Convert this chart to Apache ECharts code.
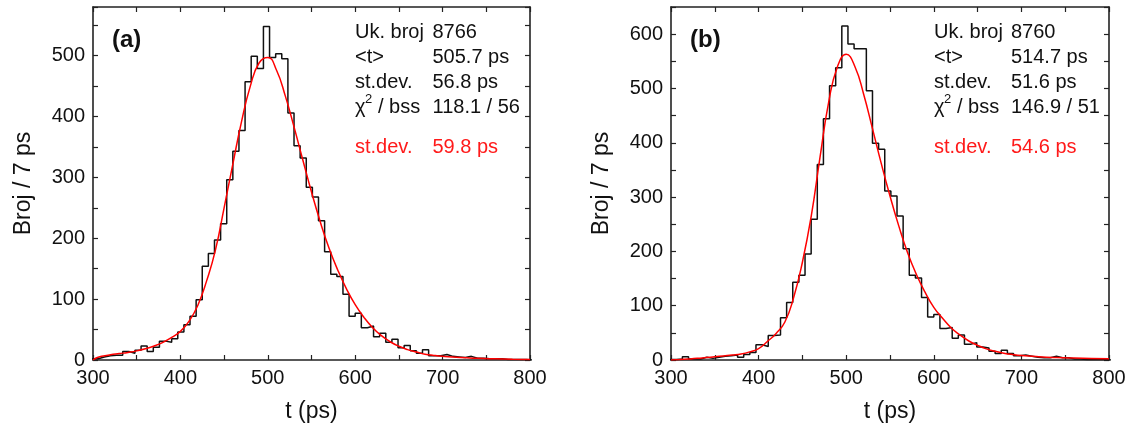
<!DOCTYPE html>
<html><head><meta charset="utf-8">
<script src="https://cdn.jsdelivr.net/npm/echarts@6/dist/echarts.min.js"></script>
<style>html,body{margin:0;padding:0;background:#fff}#c{width:1133px;height:428px}</style>
</head><body><div id="c"></div>
<script>
// ---------- DATA ----------
const binStart = 299;   // first bin edge (ps)
const binWidth = 7;     // bin width (ps)
const countsA = [2,5,7,8,8,14,11,16,23,14,21,31,29,35,46,58,72,99,154,175,197,224,296,343,377,457,499,479,548,497,503,495,406,352,332,284,268,229,178,141,137,108,72,77,53,56,38,44,29,34,20,24,15,11,17,7,7,9,6,5,4,6,3,3,2,2,2,1,1,1,1,0];
const countsB = [1,2,6,2,2,5,3,5,7,8,9,5,10,14,28,25,45,46,78,106,143,156,195,259,360,444,505,538,615,582,573,573,496,399,388,311,302,265,205,156,151,115,79,84,58,60,40,46,29,32,24,22,16,12,18,12,8,9,7,5,4,4,7,4,4,2,2,1,1,1,1,0];
const fitTA = [300,305,310,320,330,340,350,360,370,380,390,400,410,420,430,440,450,460,470,480,490,500,510,520,530,540,550,560,570,580,590,600,610,620,630,640,650,660,670,680,690,700,720,740,760,780,800];
const fitA  = [0,4,6,8.5,10.5,12.5,15,18.5,23,29,37,47,64,90,130,180,250,322,392,450,488,497,476,434,383,329,276,227,184,148,117,91,70,53,40,30,22.5,17,13,9.5,7.5,6,4,2.8,2,1.4,1];
const fitTB = [300,310,320,330,340,350,360,370,380,390,400,410,420,430,440,450,460,470,480,490,500,510,520,530,540,550,560,570,580,590,600,610,620,630,640,650,660,670,680,690,700,720,740,760,780,800];
const fitB  = [0,0.8,1.8,3,4.5,6,7.5,9,11,15,21,34,49,70,115,180,264,372,475,540,563,540,489,426,362,302,247,198,158,125,97,77,59,46,35,27,20.5,16,12.5,10,8.2,6,4.5,3.5,2.8,2.2];
const xRange = [300, 800];
const yMaxA = 580, yMaxB = 650;
const statLabels = ['Uk. broj', '<t>', 'st.dev.'];
const statValsA = ['8766', '505.7 ps', '56.8 ps', '118.1 / 56'];
const statValsB = ['8760', '514.7 ps', '51.6 ps', '146.9 / 51'];
const fitLabel = 'st.dev.';
const fitStdA = '59.8 ps', fitStdB = '54.6 ps';
const panelLabels = ['(a)', '(b)'];
const xName = 't (ps)', yName = 'Broj / 7 ps';

// ---------- BUILD ----------
function histData(counts) {
  const d = counts.map((v, k) => [binStart + binWidth * k, v]);
  d.push([binStart + binWidth * counts.length, counts[counts.length - 1]]);
  return d;
}
const FONT = '"Liberation Sans", Arial, sans-serif';
const AX = '#222';
const grids = [
  {left: 93, top: 7, width: 437, height: 355},
  {left: 671, top: 7, width: 438, height: 355}
];
const ymax = [yMaxA, yMaxB];
const tick = {show: true, inside: true, length: 5, lineStyle: {color: AX, width: 1.2}};
const line = {show: true, onZero: false, lineStyle: {color: AX, width: 1.6}};
const xAxes = [], yAxes = [];
[0, 1].forEach(i => {
  xAxes.push({type: 'value', gridIndex: i, min: xRange[0], max: xRange[1], interval: 50,
    name: xName, nameLocation: 'middle', nameGap: 40,
    nameTextStyle: {fontFamily: FONT, fontSize: 23, color: '#111'},
    axisLine: line, axisTick: tick, splitLine: {show: false},
    axisLabel: {fontFamily: FONT, fontSize: 20, color: '#111', margin: 8,
      formatter: v => (v % 100 === 0 ? String(v) : '')}});
  xAxes.push({type: 'value', gridIndex: i, position: 'top', min: xRange[0], max: xRange[1], interval: 50,
    axisLine: line, axisTick: tick, axisLabel: {show: false}, splitLine: {show: false}});
  yAxes.push({type: 'value', gridIndex: i, min: 0, max: ymax[i], interval: 50,
    name: yName, nameLocation: 'middle', nameGap: 58, nameRotate: 90,
    nameTextStyle: {fontFamily: FONT, fontSize: 23, color: '#111'},
    axisLine: line, axisTick: tick, splitLine: {show: false},
    axisLabel: {fontFamily: FONT, fontSize: 20, color: '#111', margin: 8,
      formatter: v => (v % 100 === 0 ? String(v) : '')}});
  yAxes.push({type: 'value', gridIndex: i, position: 'right', min: 0, max: ymax[i], interval: 50,
    axisLine: line, axisTick: tick, axisLabel: {show: false}, splitLine: {show: false}});
});

const series = [];
[[countsA, fitTA, fitA], [countsB, fitTB, fitB]].forEach((p, i) => {
  series.push({type: 'line', xAxisIndex: 2 * i, yAxisIndex: 2 * i, step: 'end', symbol: 'none',
    data: histData(p[0]), lineStyle: {color: '#111', width: 1.5}, z: 2});
  series.push({type: 'line', xAxisIndex: 2 * i, yAxisIndex: 2 * i, smooth: 0.5, symbol: 'none',
    data: p[1].map((t, k) => [t, p[2][k]]), lineStyle: {color: '#ff0000', width: 1.5}, z: 3});
});

function txt(x, y, s, size, color) {
  return {type: 'text', x: x, y: y, z: 10,
    style: {text: s, fontFamily: FONT, fontSize: size, fill: color, textVerticalAlign: 'middle'}};
}
const rows = [32.5, 57, 82, 107, 147];
const graphics = [];
[[355, 432.5, statValsA, fitStdA, 112], [934, 1011, statValsB, fitStdB, 690]].forEach((p, i) => {
  const lx = p[0], vx = p[1], vals = p[2];
  graphics.push({type: 'text', x: p[4], y: 40, z: 10,
    style: {text: panelLabels[i], fontFamily: FONT, fontSize: 24, fontWeight: 'bold', fill: '#111', textVerticalAlign: 'middle'}});
  statLabels.forEach((s, k) => graphics.push(txt(lx, rows[k], s, 20, '#111')));
  graphics.push(txt(lx, rows[3], 'χ', 20, '#111'));
  graphics.push(txt(lx + 10, rows[3] - 8, '2', 13, '#111'));
  graphics.push(txt(lx + 23, rows[3], '/ bss', 20, '#111'));
  vals.forEach((s, k) => graphics.push(txt(vx, rows[k], s, 20, '#111')));
  graphics.push(txt(lx, rows[4], fitLabel, 20, '#ff1a1a'));
  graphics.push(txt(vx, rows[4], p[3], 20, '#ff1a1a'));
});

const chart = echarts.init(document.getElementById('c'), null, {renderer: 'canvas'});
chart.setOption({
  animation: false,
  backgroundColor: '#fff',
  grid: grids,
  xAxis: xAxes,
  yAxis: yAxes,
  series: series,
  graphic: graphics
});
</script></body></html>
